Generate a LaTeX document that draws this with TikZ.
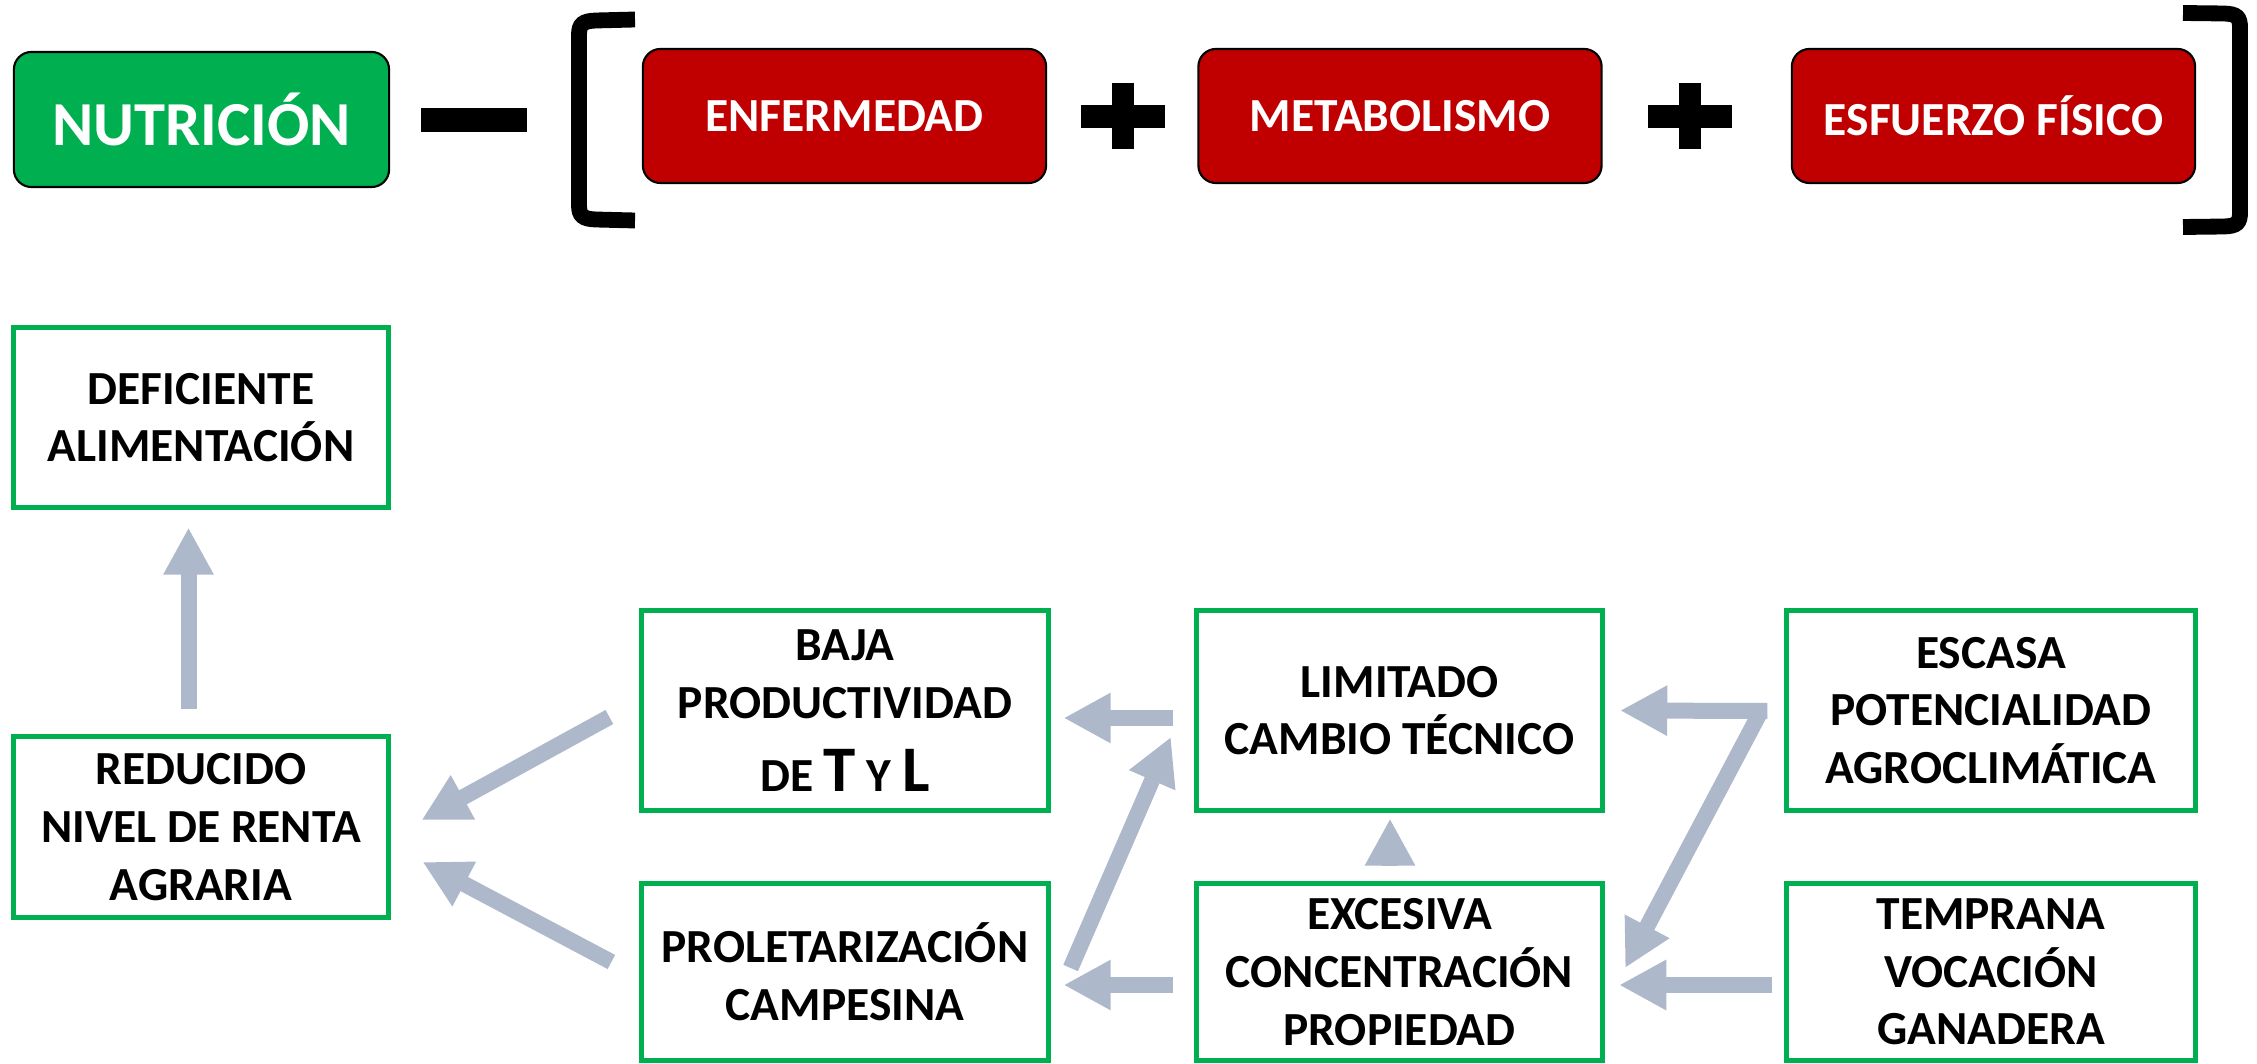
\documentclass[tikz,border=0pt]{standalone}
\usepackage{fontspec}
\setmainfont{Carlito}
\usetikzlibrary{arrows.meta,calc}
\definecolor{grn}{HTML}{00B050}
\definecolor{rd}{HTML}{C00000}
\definecolor{arrc}{HTML}{ADB9CA}
\begin{document}
\begin{tikzpicture}[x=0.01cm,y=-0.01cm,
  topbox/.style={draw=black, line width=0.6pt, rounded corners=5pt, text=white,
    font=\bfseries\fontsize{13.5}{16.4}\selectfont, minimum width=4.03cm, minimum height=1.34cm, inner sep=0pt},
  box/.style={draw=grn, line width=1.42pt, fill=white, align=center,
    font=\bfseries\fontsize{13.5}{16.4}\selectfont, inner sep=0pt, minimum height=1.99cm, minimum width=4.06cm},
  lowbox/.style={box, minimum height=1.76cm},
  leftbox/.style={box, minimum width=3.74cm, minimum height=1.80cm},
  arr/.style={draw=arrc, line width=4.55pt, -{Triangle[width=13.4pt,length=13.4pt]}},
  brk/.style={draw=black, line width=4.5pt},
  sym/.style={fill=black, inner sep=0pt},
  big/.style={}
]
\useasboundingbox (0,0) rectangle (2257,1064);

% top row
\node[topbox, fill=grn, minimum width=3.75cm, minimum height=1.35cm,
  font=\bfseries\fontsize{17.8}{20}\selectfont] (nut) at (201.5,119.5) {NUTRICIÓN};
\node[topbox, fill=rd] (enf) at (844.5,116) {ENFERMEDAD};
\node[topbox, fill=rd] (met) at (1400,116) {METABOLISMO};
\node[topbox, fill=rd] (esf) at (1993.5,116) {ESFUERZO FÍSICO};

\node[sym, minimum width=1.06cm, minimum height=0.24cm] (minus) at (474,120) {};
\node[sym, minimum width=0.83cm, minimum height=0.23cm] (plusAh) at (1123,116.5) {};
\node[sym, minimum width=0.22cm, minimum height=0.66cm] (plusAv) at (1123,116) {};
\node[sym, minimum width=0.83cm, minimum height=0.23cm] (plusBh) at (1690,116.5) {};
\node[sym, minimum width=0.22cm, minimum height=0.66cm] (plusBv) at (1690,116) {};

\draw[brk] (635,19.5) -- (596,20.5) .. controls (583,21) and (579,24) .. (579,35)
  -- (579,205) .. controls (579,216) and (583,219) .. (596,219.5) -- (635,220.5);
\draw[brk] (2183,13) -- (2224,13.5) .. controls (2237,14) and (2240,17) .. (2240,28)
  -- (2240,212) .. controls (2240,223) and (2237,226) .. (2224,226.5) -- (2183,227);

% bottom boxes
\node[leftbox] (DEF) at (201,417.5) {DEFICIENTE\\ALIMENTACIÓN};
\node[leftbox] (RED) at (201,827) {REDUCIDO\\NIVEL DE RENTA\\AGRARIA};
\node[box] (BAJA) at (845,710.5) {BAJA\\PRODUCTIVIDAD\\[4.4pt]DE {\fontsize{18.5}{20}\selectfont T} Y {\fontsize{18.5}{20}\selectfont L}};
\node[box] (LIM) at (1399.5,710.5) {LIMITADO\\CAMBIO TÉCNICO};
\node[box, minimum width=4.08cm] (ESC) at (1991,710.5) {ESCASA\\POTENCIALIDAD\\AGROCLIMÁTICA};
\node[lowbox] (PROL) at (845,972) {PROLETARIZACIÓN\\CAMPESINA};
\node[lowbox] (EXC) at (1399.5,972) {EXCESIVA\\CONCENTRACIÓN\\PROPIEDAD};
\node[lowbox, minimum width=4.08cm] (TEMP) at (1991,972) {TEMPRANA\\VOCACIÓN\\GANADERA};

% arrows
\draw[arr] ($(RED.north)+(-12.5,-25)$) -- ($(DEF.south)+(-12.5,17.5)$);
\draw[arr] ($(BAJA.west)+(-30,6.5)$) -- ($(RED.east)+(31,-7)$);
\draw[arr] ($(PROL.west)+(-28,-10)$) -- ($(RED.east)+(32,35)$);
\draw[arr] ($(LIM.west)+(-21,7.5)$) -- ($(BAJA.east)+(13,7.5)$);
\draw[arr] ($(EXC.west)+(-21,13)$) -- ($(PROL.east)+(13,13)$);
\draw[arr] ($(PROL.east)+(20,-4)$) -- ($(LIM.west)+(-23,26.5)$);
\draw[arr] ($(EXC.north)+(-9.5,-15)$) -- ($(LIM.south)+(-9.5,6)$);
\draw[arr] ($(ESC.west)+(-24,1.5)$) -- ($(EXC.east)+(20,-4)$);
\draw[arr] ($(ESC.west)+(-17,0.5)$) -- ($(LIM.east)+(15,0)$);
\draw[arr] ($(TEMP.west)+(-12,13)$) -- ($(EXC.east)+(14,13)$);
\end{tikzpicture}
\end{document}
